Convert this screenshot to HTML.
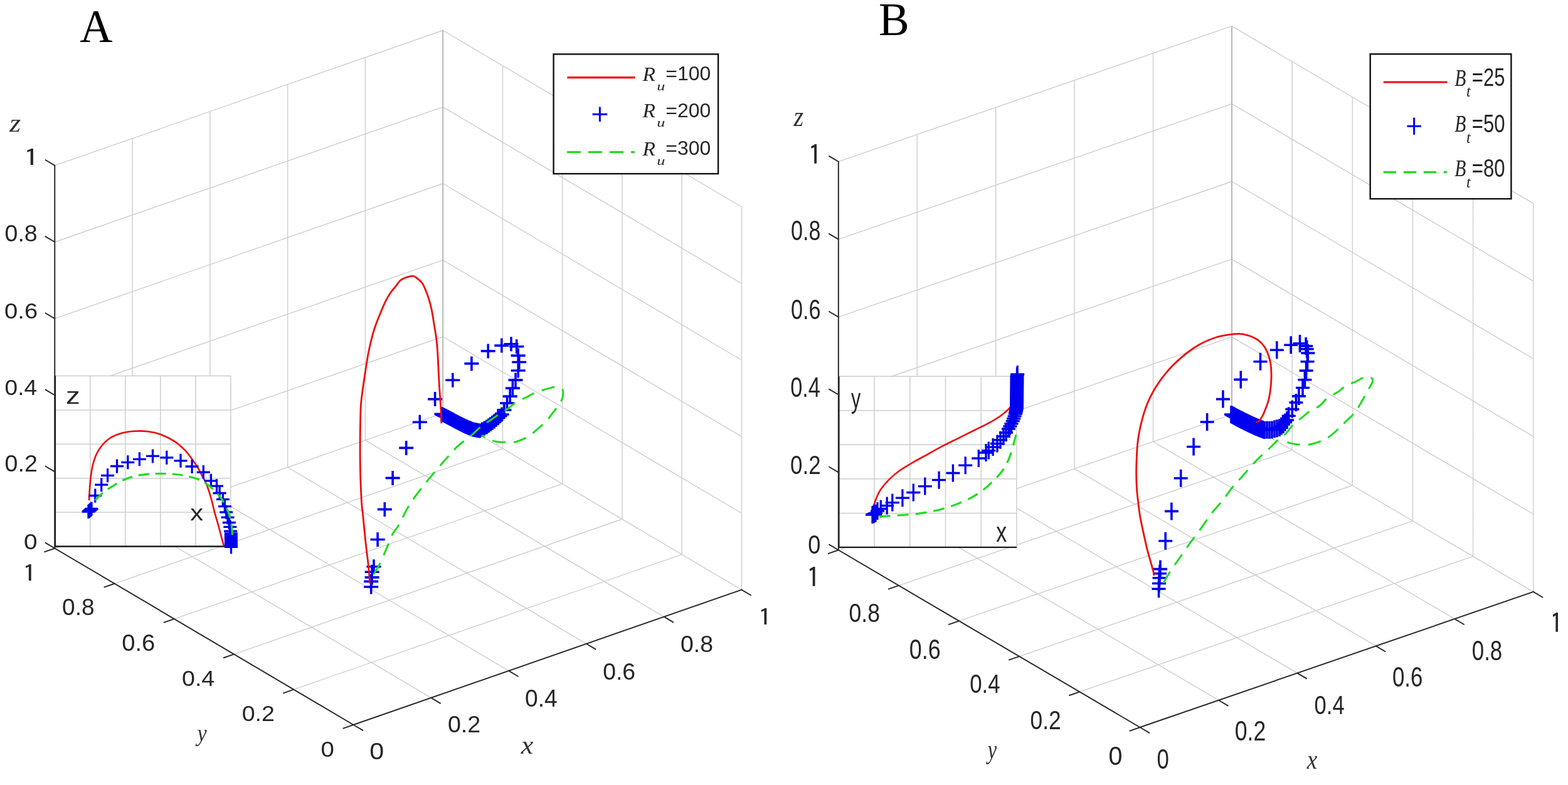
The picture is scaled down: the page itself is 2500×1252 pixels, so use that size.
<!DOCTYPE html>
<html><head><meta charset="utf-8"><title>Figure</title>
<style>html,body{margin:0;padding:0;background:#fff;}svg{display:block;}</style></head>
<body><svg width="2500" height="1252" viewBox="0 0 2500 1252">
<rect width="2500" height="1252" fill="#fff"/>
<path d="M87.3,874.5L87.3,263.9M87.3,874.5L706.2,659.1M1182.4,940.6L1182.4,330M1182.4,940.6L706.2,659.1M563.5,1156L87.3,874.5M563.5,1156L1182.4,940.6M211.08,831.42L211.08,220.82M87.3,752.38L706.2,536.98M1087.16,884.3L1087.16,273.7M1182.4,818.48L706.2,536.98M687.28,1112.92L211.08,831.42M468.26,1099.7L1087.16,884.3M334.86,788.34L334.86,177.74M87.3,630.26L706.2,414.86M991.92,828L991.92,217.4M1182.4,696.36L706.2,414.86M811.06,1069.84L334.86,788.34M373.02,1043.4L991.92,828M458.64,745.26L458.64,134.66M87.3,508.14L706.2,292.74M896.68,771.7L896.68,161.1M1182.4,574.24L706.2,292.74M934.84,1026.76L458.64,745.26M277.78,987.1L896.68,771.7M582.42,702.18L582.42,91.58M87.3,386.02L706.2,170.62M801.44,715.4L801.44,104.8M1182.4,452.12L706.2,170.62M1058.62,983.68L582.42,702.18M182.54,930.8L801.44,715.4M706.2,659.1L706.2,48.5M87.3,263.9L706.2,48.5M706.2,659.1L706.2,48.5M1182.4,330L706.2,48.5M1182.4,940.6L706.2,659.1M87.3,874.5L706.2,659.1" fill="none" stroke="#cecece" stroke-width="1.4"/>
<line x1="706.2" y1="659.1" x2="706.2" y2="48.5" stroke="#b4b4b4" stroke-width="1.8"/>
<path d="M1336.8,877.3L1336.8,257.8M1336.8,877.3L1964,661.2M2444.7,943.9L2444.7,324.4M2444.7,943.9L1964,661.2M1817.5,1160L1336.8,877.3M1817.5,1160L2444.7,943.9M1462.24,834.08L1462.24,214.58M1336.8,753.4L1964,537.3M2348.56,887.36L2348.56,267.86M2444.7,820L1964,537.3M1942.94,1116.78L1462.24,834.08M1721.36,1103.46L2348.56,887.36M1587.68,790.86L1587.68,171.36M1336.8,629.5L1964,413.4M2252.42,830.82L2252.42,211.32M2444.7,696.1L1964,413.4M2068.38,1073.56L1587.68,790.86M1625.22,1046.92L2252.42,830.82M1713.12,747.64L1713.12,128.14M1336.8,505.6L1964,289.5M2156.28,774.28L2156.28,154.78M2444.7,572.2L1964,289.5M2193.82,1030.34L1713.12,747.64M1529.08,990.38L2156.28,774.28M1838.56,704.42L1838.56,84.92M1336.8,381.7L1964,165.6M2060.14,717.74L2060.14,98.24M2444.7,448.3L1964,165.6M2319.26,987.12L1838.56,704.42M1432.94,933.84L2060.14,717.74M1964,661.2L1964,41.7M1336.8,257.8L1964,41.7M1964,661.2L1964,41.7M2444.7,324.4L1964,41.7M2444.7,943.9L1964,661.2M1336.8,877.3L1964,661.2" fill="none" stroke="#cecece" stroke-width="1.4"/>
<line x1="1964" y1="661.2" x2="1964" y2="41.7" stroke="#b4b4b4" stroke-width="1.8"/>
<rect x="87.9" y="599.5" width="279.9" height="272" fill="#fff"/>
<path d="M143.88,599.5V871.5M87.9,817.1H367.8M199.86,599.5V871.5M87.9,762.7H367.8M255.84,599.5V871.5M87.9,708.3H367.8M311.82,599.5V871.5M87.9,653.9H367.8M367.8,599.5V871.5M87.9,599.5H367.8" fill="none" stroke="#cdcdcd" stroke-width="1.5"/>
<path d="M87.9,599.5V871.5H367.8" fill="none" stroke="#1a1a1a" stroke-width="2.4"/>
<rect x="1337.4" y="600.3" width="283.5" height="272.6" fill="#fff"/>
<path d="M1394.1,600.3V872.9M1337.4,818.38H1620.9M1450.8,600.3V872.9M1337.4,763.86H1620.9M1507.5,600.3V872.9M1337.4,709.34H1620.9M1564.2,600.3V872.9M1337.4,654.82H1620.9M1620.9,600.3V872.9M1337.4,600.3H1620.9" fill="none" stroke="#cdcdcd" stroke-width="1.5"/>
<path d="M1337.4,600.3V872.9H1620.9" fill="none" stroke="#1a1a1a" stroke-width="2.4"/>
<path d="M580.2,936h23 M591.7,924.5v23 M580.2,927.4h23 M591.7,915.9v23 M581.6,920.9h23 M593.1,909.4v23 M581.6,912.3h23 M593.1,900.8v23 M584.5,903.7h23 M596,892.2v23 M590.6,860.5h23 M602.1,849v23 M601.8,812.4h23 M613.3,800.9v23 M614.6,762.4h23 M626.1,750.9v23 M636.2,714.4h23 M647.7,702.9v23 M657.8,673.3h23 M669.3,661.8v23 M682.1,636.6h23 M693.6,625.1v23 M710.3,606.2h23 M721.8,594.7v23 M740.4,579.9h23 M751.9,568.4v23 M766.7,559.9h23 M778.2,548.4v23 M788.3,551.1h23 M799.8,539.6v23 M803.5,548.7h23 M815,537.2v23 M812.2,552.7h23 M823.7,541.2v23 M814.6,567.1h23 M826.1,555.6v23 M816.2,577.5h23 M827.7,566v23 M814.7,591h23 M826.2,579.5v23 M810.5,606.1h23 M822,594.6v23 M805.9,619.1h23 M817.4,607.6v23 M801.7,632.1h23 M813.2,620.6v23 M797,643h23 M808.5,631.5v23 M792.4,653.9h23 M803.9,642.4v23 M788.5,661h23 M800,649.5v23 M785.5,663.75h23 M797,652.25v23 M782.5,666.5h23 M794,655v23 M779.5,669.25h23 M791,657.75v23 M776.5,672h23 M788,660.5v23 M773.5,674.25h23 M785,662.75v23 M770.5,676.5h23 M782,665v23 M767.5,678.75h23 M779,667.25v23 M764.5,681h23 M776,669.5v23 M760.83,683h23 M772.33,671.5v23 M757.17,685h23 M768.67,673.5v23 M753.5,687h23 M765,675.5v23 M753.5,687h23 M765,675.5v23 M751.93,686.71h23 M763.43,675.21v23 M750.36,686.43h23 M761.86,674.93v23 M748.79,686.14h23 M760.29,674.64v23 M747.21,685.86h23 M758.71,674.36v23 M745.64,685.57h23 M757.14,674.07v23 M744.07,685.29h23 M755.57,673.79v23 M742.5,685h23 M754,673.5v23 M741,684.38h23 M752.5,672.88v23 M739.5,683.75h23 M751,672.25v23 M738,683.12h23 M749.5,671.62v23 M736.5,682.5h23 M748,671v23 M735,681.88h23 M746.5,670.38v23 M733.5,681.25h23 M745,669.75v23 M732,680.62h23 M743.5,669.12v23 M730.5,680h23 M742,668.5v23 M729,679.25h23 M740.5,667.75v23 M727.5,678.5h23 M739,667v23 M726,677.75h23 M737.5,666.25v23 M724.5,677h23 M736,665.5v23 M723,676.25h23 M734.5,664.75v23 M721.5,675.5h23 M733,664v23 M720,674.75h23 M731.5,663.25v23 M718.5,674h23 M730,662.5v23 M717.06,673.22h23 M728.56,661.72v23 M715.61,672.44h23 M727.11,660.94v23 M714.17,671.67h23 M725.67,660.17v23 M712.72,670.89h23 M724.22,659.39v23 M711.28,670.11h23 M722.78,658.61v23 M709.83,669.33h23 M721.33,657.83v23 M708.39,668.56h23 M719.89,657.06v23 M706.94,667.78h23 M718.44,656.28v23 M705.5,667h23 M717,655.5v23 M704.06,666.27h23 M715.56,654.77v23 M702.61,665.53h23 M714.11,654.03v23 M701.17,664.8h23 M712.67,653.3v23 M699.72,664.07h23 M711.22,652.57v23 M698.28,663.33h23 M709.78,651.83v23 M696.83,662.6h23 M708.33,651.1v23 M695.39,661.87h23 M706.89,650.37v23 M693.94,661.13h23 M705.44,649.63v23 M692.5,660.4h23 M704,648.9v23" fill="none" stroke="#0000f0" stroke-width="3.6"/>
<path d="M590,930 C589.93,929.68 590.03,932.73 589.6,928.1 C589.17,923.47 588.48,912.5 587.4,902.2 C586.32,891.9 584.53,879.48 583.1,866.3 C581.67,853.12 579.92,834.23 578.8,823.1 C577.68,811.97 577.12,811.42 576.4,799.5 C575.68,787.58 574.88,765.97 574.5,751.6 C574.12,737.23 574.1,726.08 574.1,713.3 C574.1,700.52 574.28,686.08 574.5,674.9 C574.72,663.72 574.77,655.13 575.4,646.2 C576.03,637.27 577.02,630.88 578.3,621.3 C579.58,611.72 581.5,598.92 583.1,588.7 C584.7,578.48 585.97,569.48 587.9,560 C589.83,550.52 592.63,539.3 594.7,531.8 C596.77,524.3 598.25,520.58 600.3,515 C602.35,509.42 604.58,504.07 607,498.3 C609.42,492.53 612.2,485.62 614.8,480.4 C617.4,475.18 619.8,471.1 622.6,467 C625.4,462.9 628.7,459.3 631.6,455.8 C634.5,452.3 635.72,448.62 640,446 C644.28,443.38 653.12,440.43 657.3,440.1 C661.48,439.77 662.5,442.13 665.1,444 C667.7,445.87 670.67,448.22 672.9,451.3 C675.13,454.38 676.63,458.03 678.5,462.5 C680.37,466.97 682.42,472.52 684.1,478.1 C685.78,483.68 687.3,489.65 688.6,496 C689.9,502.35 690.78,509.3 691.9,516.2 C693.02,523.1 694.37,530.33 695.3,537.4 C696.23,544.47 696.68,546.2 697.5,558.6 C698.32,571 699.35,596.95 700.2,611.8 C701.05,626.65 702,637.12 702.6,647.7 C703.2,658.28 703.6,670.7 703.8,675.3" fill="none" stroke="#ee0a0a" stroke-width="2.8"/>
<path d="M596,916 C597.45,913.47 601.93,906.2 604.7,900.8 C607.47,895.4 610.33,888.75 612.6,883.6 C614.87,878.45 616.03,875.3 618.3,869.9 C620.57,864.5 623.43,856.35 626.2,851.2 C628.97,846.05 631.9,844.03 634.9,839 C637.9,833.97 641.57,826.03 644.2,821 C646.83,815.97 647.7,813.72 650.7,808.8 C653.7,803.88 656.83,798.78 662.2,791.5 C667.57,784.22 675.65,774 682.9,765.1 C690.15,756.2 700.02,744.7 705.7,738.1 C711.38,731.5 713.22,729.7 717,725.5 C720.78,721.3 724.4,716.75 728.4,712.9 C732.4,709.05 736.65,705.92 741,702.4 C745.35,698.88 750,695.65 754.5,691.8 C759,687.95 763.15,683.12 768,679.3 C772.85,675.48 778.23,672.53 783.6,668.9 C788.97,665.27 795.7,660.43 800.2,657.5 C804.7,654.57 806.62,654.07 810.6,651.3 C814.58,648.53 819,644.02 824.1,640.9 C829.2,637.78 836.18,635.12 841.2,632.6 C846.22,630.08 848.73,627.97 854.2,625.8 C859.67,623.63 868.45,621.07 874,619.6 C879.55,618.13 883.7,616.73 887.5,617 C891.3,617.27 895.17,618.6 896.8,621.2 C898.43,623.8 898.17,628.63 897.3,632.6 C896.43,636.57 894.8,639.98 891.6,645 C888.4,650.02 881.73,658.02 878.1,662.7 C874.47,667.38 873.78,669.12 869.8,673.1 C865.82,677.08 858.35,682.97 854.2,686.6 C850.05,690.23 849.92,691.97 844.9,694.9 C839.88,697.83 829.63,702.47 824.1,704.2 C818.57,705.93 817.23,705.3 811.7,705.3 C806.17,705.3 797.02,705.25 790.9,704.2 C784.78,703.15 778.82,700.7 775,699 C771.18,697.3 769.17,694.83 768,694" fill="none" stroke="#1edc1e" stroke-width="3" stroke-dasharray="21 13"/>
<path d="M1836.5,939.3h22 M1847.5,925.3v28 M1837,930.5h22 M1848,916.5v28 M1837.5,921.7h22 M1848.5,907.7v28 M1838,914.7h22 M1849,900.7v28 M1839,907.6h22 M1850,893.6v28 M1847.2,862.8h22 M1858.2,848.8v28 M1856.9,815.4h22 M1867.9,801.4v28 M1871.7,762.8h22 M1882.7,748.8v28 M1892.1,712.5h22 M1903.1,698.5v28 M1913.6,673h22 M1924.6,659v28 M1938.9,636.6h22 M1949.9,622.6v28 M1967.3,605.4h22 M1978.3,591.4v28 M1998.5,576.7h22 M2009.5,562.7v28 M2024.8,558.3h22 M2035.8,544.3v28 M2047.2,550.3h22 M2058.2,536.3v28 M2061.5,547.9h22 M2072.5,533.9v28 M2071.1,551.9h22 M2082.1,537.9v28 M2072.7,556.7h22 M2083.7,542.7v28 M2074.3,563.1h22 M2085.3,549.1v28 M2073.5,576.7h22 M2084.5,562.7v28 M2071.6,591.1h22 M2082.6,577.1v28 M2069.4,605.7h22 M2080.4,591.7v28 M2066,618.5h22 M2077,604.5v28 M2059.9,631.9h22 M2070.9,617.9v28 M2055.4,642h22 M2066.4,628v28 M2049.3,652.6h22 M2060.3,638.6v28 M2043.7,663.2h22 M2054.7,649.2v28 M2041,670h22 M2052,656v28 M2038,673.5h22 M2049,659.5v28 M2035,677h22 M2046,663v28 M2032,679.5h22 M2043,665.5v28 M2029,682h22 M2040,668v28 M2025,683.17h22 M2036,669.17v28 M2021,684.33h22 M2032,670.33v28 M2017,685.5h22 M2028,671.5v28 M2013,685.67h22 M2024,671.67v28 M2009,685.83h22 M2020,671.83v28 M2005,686h22 M2016,672v28 M2005,686h22 M2016,672v28 M2003.56,685.44h22 M2014.56,671.44v28 M2002.11,684.89h22 M2013.11,670.89v28 M2000.67,684.33h22 M2011.67,670.33v28 M1999.22,683.78h22 M2010.22,669.78v28 M1997.78,683.22h22 M2008.78,669.22v28 M1996.33,682.67h22 M2007.33,668.67v28 M1994.89,682.11h22 M2005.89,668.11v28 M1993.44,681.56h22 M2004.44,667.56v28 M1992,681h22 M2003,667v28 M1990.56,680.33h22 M2001.56,666.33v28 M1989.11,679.67h22 M2000.11,665.67v28 M1987.67,679h22 M1998.67,665v28 M1986.22,678.33h22 M1997.22,664.33v28 M1984.78,677.67h22 M1995.78,663.67v28 M1983.33,677h22 M1994.33,663v28 M1981.89,676.33h22 M1992.89,662.33v28 M1980.44,675.67h22 M1991.44,661.67v28 M1979,675h22 M1990,661v28 M1977.6,674.3h22 M1988.6,660.3v28 M1976.2,673.6h22 M1987.2,659.6v28 M1974.8,672.9h22 M1985.8,658.9v28 M1973.4,672.2h22 M1984.4,658.2v28 M1972,671.5h22 M1983,657.5v28 M1970.6,670.8h22 M1981.6,656.8v28 M1969.2,670.1h22 M1980.2,656.1v28 M1967.8,669.4h22 M1978.8,655.4v28 M1966.4,668.7h22 M1977.4,654.7v28 M1965,668h22 M1976,654v28 M1963.56,667.22h22 M1974.56,653.22v28 M1962.11,666.44h22 M1973.11,652.44v28 M1960.67,665.67h22 M1971.67,651.67v28 M1959.22,664.89h22 M1970.22,650.89v28 M1957.78,664.11h22 M1968.78,650.11v28 M1956.33,663.33h22 M1967.33,649.33v28 M1954.89,662.56h22 M1965.89,648.56v28 M1953.44,661.78h22 M1964.44,647.78v28 M1952,661h22 M1963,647v28" fill="none" stroke="#0000f0" stroke-width="3.6"/>
<path d="M1840,918 C1839.77,916.72 1839.47,913.82 1838.6,910.3 C1837.73,906.78 1836.37,902.5 1834.8,896.9 C1833.23,891.3 1831.07,884.17 1829.2,876.7 C1827.33,869.23 1825.47,860.67 1823.6,852.1 C1821.73,843.53 1819.48,833.87 1818,825.3 C1816.52,816.73 1815.63,808.53 1814.7,800.7 C1813.77,792.87 1812.88,787.63 1812.4,778.3 C1811.92,768.97 1811.45,757.58 1811.8,744.7 C1812.15,731.82 1812.47,715.35 1814.5,701 C1816.53,686.65 1820.03,671.27 1824,658.6 C1827.97,645.93 1832.32,635.78 1838.3,625 C1844.28,614.22 1852.3,603.08 1859.9,593.9 C1867.5,584.72 1875.52,577.1 1883.9,569.9 C1892.28,562.7 1901.02,556.02 1910.2,550.7 C1919.38,545.38 1929.7,540.95 1939,538 C1948.3,535.05 1958.92,533.87 1966,533 C1973.08,532.13 1975.72,531.77 1981.5,532.8 C1987.28,533.83 1995.63,536.68 2000.7,539.2 C2005.77,541.72 2008.72,544.45 2011.9,547.9 C2015.08,551.35 2017.55,554.97 2019.8,559.9 C2022.05,564.83 2024.2,571.38 2025.4,577.5 C2026.6,583.62 2026.87,590.22 2027,596.6 C2027.13,602.98 2026.87,609.13 2026.2,615.8 C2025.53,622.47 2024.33,630.75 2023,636.6 C2021.67,642.45 2019.92,646.38 2018.2,650.9 C2016.48,655.42 2014.55,660.23 2012.7,663.7 C2010.85,667.17 2008.83,670.1 2007.1,671.7 C2005.37,673.3 2003.1,673.03 2002.3,673.3" fill="none" stroke="#ee0a0a" stroke-width="2.8"/>
<path d="M1855,930 C1856.83,926.83 1861.83,917.5 1866,911 C1870.17,904.5 1875,898.17 1880,891 C1885,883.83 1890.47,875.67 1896,868 C1901.53,860.33 1907.45,852.92 1913.2,845 C1918.95,837.08 1924.42,828.4 1930.5,820.5 C1936.58,812.6 1943.78,805.02 1949.7,797.6 C1955.62,790.18 1960.3,782.88 1966,776 C1971.7,769.12 1977.73,763.22 1983.9,756.3 C1990.07,749.38 1996.42,741.28 2003,734.5 C2009.58,727.72 2017.27,721.43 2023.4,715.6 C2029.53,709.77 2035.47,703.38 2039.8,699.5 C2044.13,695.62 2045.8,695.9 2049.4,692.3 C2053,688.7 2057,682.3 2061.4,677.9 C2065.8,673.5 2071.4,669.5 2075.8,665.9 C2080.2,662.3 2083,659.5 2087.8,656.3 C2092.6,653.1 2099.82,650.3 2104.6,646.7 C2109.38,643.1 2111.72,638.3 2116.5,634.7 C2121.28,631.1 2128.5,628.3 2133.3,625.1 C2138.1,621.9 2140.5,618.3 2145.3,615.5 C2150.1,612.7 2156.9,610.7 2162.1,608.3 C2167.3,605.9 2172.52,602.07 2176.5,601.1 C2180.48,600.13 2184,601.3 2186,602.5 C2188,603.7 2189.33,604.95 2188.5,608.3 C2187.67,611.65 2184.25,616.65 2181,622.6 C2177.75,628.55 2172.58,638 2169,644 C2165.42,650 2163.5,653.77 2159.5,658.6 C2155.5,663.43 2149,669 2145,673 C2141,677 2139.88,678.6 2135.5,682.6 C2131.12,686.6 2123.88,693.4 2118.7,697 C2113.52,700.6 2109.58,702.2 2104.4,704.2 C2099.22,706.2 2093.2,708.2 2087.6,709 C2082,709.8 2076,709.4 2070.8,709 C2065.6,708.6 2061.2,707.93 2056.4,706.6 C2051.6,705.27 2044.4,701.93 2042,701" fill="none" stroke="#1edc1e" stroke-width="3" stroke-dasharray="21 13"/>
<path d="M141.9,798 C142.23,793.03 142.87,777.7 143.9,768.2 C144.93,758.7 145.95,749.25 148.1,741 C150.25,732.75 152.88,725.3 156.8,718.7 C160.72,712.1 165.82,705.93 171.6,701.4 C177.38,696.87 184.48,693.78 191.5,691.5 C198.52,689.22 206.28,688.25 213.7,687.7 C221.12,687.15 228.97,687.37 236,688.2 C243.03,689.03 248.88,690.1 255.9,692.7 C262.92,695.3 271.5,699.47 278.1,703.8 C284.7,708.13 290.38,713.33 295.5,718.7 C300.62,724.07 305.52,731.53 308.8,736 C312.08,740.47 313,741.78 315.2,745.5 C317.4,749.22 319.73,754 322,758.3 C324.27,762.6 326.4,765.33 328.8,771.3 C331.2,777.27 334.12,786.25 336.4,794.1 C338.68,801.95 340.47,810.82 342.5,818.4 C344.53,825.98 346.45,831.77 348.6,839.6 C350.75,847.43 354,860.17 355.4,865.4 C356.8,870.63 356.73,870.07 357,871" fill="none" stroke="#ee0a0a" stroke-width="2.6"/>
<path d="M130.5,816h21 M141,805v22 M131.5,815.1h21 M142,804.1v22 M132.5,814.2h21 M143,803.2v22 M133.5,813.3h21 M144,802.3v22 M134.5,812.4h21 M145,801.4v22 M135.5,811.5h21 M146,800.5v22 M141.3,790.5h21 M151.8,779.5v22 M151.2,773.2h21 M161.7,762.2v22 M161.1,758.3h21 M171.6,747.3v22 M176,743.5h21 M186.5,732.5v22 M193.3,737.3h21 M203.8,726.3v22 M211.9,732.3h21 M222.4,721.3v22 M233,727.4h21 M243.5,716.4v22 M255.3,729.8h21 M265.8,718.8v22 M277.5,734.8h21 M288,723.8v22 M295.6,744h21 M306.1,733v22 M313.8,753.1h21 M324.3,742.1v22 M325.9,766.8h21 M336.4,755.8v22 M335,775.1h21 M345.5,764.1v22 M339.6,786.5h21 M350.1,775.5v22 M344.9,796.4h21 M355.4,785.4v22 M347.9,807.7h21 M358.4,796.7v22 M350.2,816.8h21 M360.7,805.8v22 M352.5,825.2h21 M363,814.2v22 M354.8,833.5h21 M365.3,822.5v22 M356.3,840.4h21 M366.8,829.4v22 M357,847.2h21 M367.5,836.2v22 M357.8,851h21 M368.3,840v22 M357.81,852.52h21 M368.31,841.52v22 M357.83,854.04h21 M368.33,843.04v22 M357.84,855.56h21 M368.34,844.56v22 M357.86,857.09h21 M368.36,846.09v22 M357.87,858.61h21 M368.37,847.61v22 M357.89,860.13h21 M368.39,849.13v22 M357.9,861.65h21 M368.4,850.65v22 M357.91,863.17h21 M368.41,852.17v22 M357.93,864.69h21 M368.43,853.69v22 M357.94,866.21h21 M368.44,855.21v22 M357.96,867.74h21 M368.46,856.74v22 M357.97,869.26h21 M368.47,858.26v22 M357.99,870.78h21 M368.49,859.78v22 M358,872.3h21 M368.5,861.3v22" fill="none" stroke="#0000f0" stroke-width="3.3"/>
<path d="M151.8,798 C153.87,795.93 159.65,789.32 164.2,785.6 C168.75,781.88 173.73,779 179.1,775.7 C184.47,772.4 190.63,768.48 196.4,765.8 C202.17,763.12 207.5,761.18 213.7,759.6 C219.9,758.02 226.98,757 233.6,756.3 C240.22,755.6 246.8,755.47 253.4,755.4 C260,755.33 266.6,755.42 273.2,755.9 C279.8,756.38 286.4,757.07 293,758.3 C299.6,759.53 307.02,761.23 312.8,763.3 C318.58,765.37 322.75,767.4 327.7,770.7 C332.65,774 337.97,778.55 342.5,783.1 C347.03,787.65 351.58,793.05 354.9,798 C358.22,802.95 360.33,807.85 362.4,812.8 C364.47,817.75 366.07,822.75 367.3,827.7 C368.53,832.65 369.27,837.45 369.8,842.5 C370.33,847.55 370.38,855.42 370.5,858" fill="none" stroke="#1edc1e" stroke-width="3.2" stroke-dasharray="17 10"/>
<path d="M1391.9,810.3 C1392.72,807.82 1394.73,800.37 1396.8,795.4 C1398.87,790.43 1400.98,785.45 1404.3,780.5 C1407.62,775.55 1411.75,770.65 1416.7,765.7 C1421.65,760.75 1427.82,755.33 1434,750.8 C1440.18,746.27 1446.38,742.83 1453.8,738.5 C1461.22,734.17 1470.25,729.35 1478.5,724.8 C1486.75,720.25 1495.03,715.53 1503.3,711.2 C1511.57,706.87 1519.85,702.92 1528.1,698.8 C1536.35,694.68 1544.55,690.62 1552.8,686.5 C1561.05,682.38 1570.17,678.23 1577.6,674.1 C1585.03,669.97 1592.03,665.62 1597.4,661.7 C1602.77,657.78 1606.5,654.32 1609.8,650.6 C1613.1,646.88 1615.13,643.33 1617.2,639.4 C1619.27,635.47 1620.97,631.57 1622.2,627 C1623.43,622.43 1624.2,614.5 1624.6,612" fill="none" stroke="#ee0a0a" stroke-width="2.6"/>
<path d="M1380,821h22 M1391,807v28 M1381.25,820.38h22 M1392.25,806.38v28 M1382.5,819.75h22 M1393.5,805.75v28 M1383.75,819.12h22 M1394.75,805.12v28 M1385,818.5h22 M1396,804.5v28 M1388,815h22 M1399,801v28 M1393.3,811.5h22 M1404.3,797.5v28 M1403.2,806.5h22 M1414.2,792.5v28 M1411.8,801.6h22 M1422.8,787.6v28 M1427.9,794.2h22 M1438.9,780.2v28 M1445.3,785.5h22 M1456.3,771.5v28 M1463.8,775.6h22 M1474.8,761.6v28 M1486.1,765.7h22 M1497.1,751.7v28 M1508.4,754.5h22 M1519.4,740.5v28 M1528.2,742.2h22 M1539.2,728.2v28 M1549.3,731h22 M1560.3,717v28 M1561,722h22 M1572,708v28 M1565.3,718.6h22 M1576.3,704.6v28 M1572.15,713.05h22 M1583.15,699.05v28 M1579,707.5h22 M1590,693.5v28 M1584,701.75h22 M1595,687.75v28 M1589,696h22 M1600,682v28 M1593,690h22 M1604,676v28 M1597,684h22 M1608,670v28 M1597,684h22 M1608,670v28 M1599.23,679.87h22 M1610.23,665.87v28 M1601.47,675.73h22 M1612.47,661.73v28 M1603.7,671.6h22 M1614.7,657.6v28 M1605.13,667.73h22 M1616.13,653.73v28 M1606.57,663.87h22 M1617.57,649.87v28 M1608,660h22 M1619,646v28 M1608,660h22 M1619,646v28 M1608.33,658.33h22 M1619.33,644.33v28 M1608.67,656.67h22 M1619.67,642.67v28 M1609,655h22 M1620,641v28 M1609.33,653.33h22 M1620.33,639.33v28 M1609.67,651.67h22 M1620.67,637.67v28 M1610,650h22 M1621,636v28 M1610.02,648.48h22 M1621.02,634.48v28 M1610.03,646.97h22 M1621.03,632.97v28 M1610.05,645.45h22 M1621.05,631.45v28 M1610.06,643.94h22 M1621.06,629.94v28 M1610.08,642.42h22 M1621.08,628.42v28 M1610.09,640.91h22 M1621.09,626.91v28 M1610.11,639.39h22 M1621.11,625.39v28 M1610.12,637.88h22 M1621.12,623.88v28 M1610.14,636.36h22 M1621.14,622.36v28 M1610.15,634.85h22 M1621.15,620.85v28 M1610.17,633.33h22 M1621.17,619.33v28 M1610.18,631.82h22 M1621.18,617.82v28 M1610.2,630.3h22 M1621.2,616.3v28 M1610.21,628.79h22 M1621.21,614.79v28 M1610.23,627.27h22 M1621.23,613.27v28 M1610.24,625.76h22 M1621.24,611.76v28 M1610.26,624.24h22 M1621.26,610.24v28 M1610.27,622.73h22 M1621.27,608.73v28 M1610.29,621.21h22 M1621.29,607.21v28 M1610.3,619.7h22 M1621.3,605.7v28 M1610.32,618.18h22 M1621.32,604.18v28 M1610.33,616.67h22 M1621.33,602.67v28 M1610.35,615.15h22 M1621.35,601.15v28 M1610.36,613.64h22 M1621.36,599.64v28 M1610.38,612.12h22 M1621.38,598.12v28 M1610.39,610.61h22 M1621.39,596.61v28 M1610.41,609.09h22 M1621.41,595.09v28 M1610.42,607.58h22 M1621.42,593.58v28 M1610.44,606.06h22 M1621.44,592.06v28 M1610.45,604.55h22 M1621.45,590.55v28 M1610.47,603.03h22 M1621.47,589.03v28 M1610.48,601.52h22 M1621.48,587.52v28 M1610.5,600h22 M1621.5,586v28 M1611.2,597h22 M1622.2,583v28" fill="none" stroke="#0000f0" stroke-width="3.3"/>
<path d="M1401.8,823.9 C1406.33,823.6 1418.27,822.93 1429,822.1 C1439.73,821.27 1453.82,820.67 1466.2,818.9 C1478.58,817.13 1490.93,815 1503.3,811.5 C1515.67,808 1530.08,802.65 1540.4,797.9 C1550.72,793.15 1557.77,788.37 1565.2,783 C1572.63,777.63 1579.22,771.47 1585,765.7 C1590.78,759.93 1595.77,754.58 1599.9,748.4 C1604.03,742.22 1606.92,736.03 1609.8,728.6 C1612.68,721.17 1615.13,711.23 1617.2,703.8 C1619.27,696.37 1621.37,687.3 1622.2,684" fill="none" stroke="#1edc1e" stroke-width="3.2" stroke-dasharray="18 11"/>
<path d="M87.3,874.5L87.3,263.9M563.5,1156L87.3,874.5M563.5,1156L1182.4,940.6M87.3,874.5l-14.63,-8.65M563.5,1156l-16.06,5.59M563.5,1156l14.63,8.65M87.3,752.38l-14.63,-8.65M468.26,1099.7l-16.06,5.59M687.28,1112.92l14.63,8.65M87.3,630.26l-14.63,-8.65M373.02,1043.4l-16.06,5.59M811.06,1069.84l14.63,8.65M87.3,508.14l-14.63,-8.65M277.78,987.1l-16.06,5.59M934.84,1026.76l14.63,8.65M87.3,386.02l-14.63,-8.65M182.54,930.8l-16.06,5.59M1058.62,983.68l14.63,8.65M87.3,263.9l-14.63,-8.65M87.3,874.5l-16.06,5.59M1182.4,940.6l14.63,8.65" fill="none" stroke="#262626" stroke-width="1.9" stroke-linecap="square"/>
<path d="M1336.8,877.3L1336.8,257.8M1817.5,1160L1336.8,877.3M1817.5,1160L2444.7,943.9M1336.8,877.3l-14.65,-8.62M1817.5,1160l-16.07,5.54M1817.5,1160l14.65,8.62M1336.8,753.4l-14.65,-8.62M1721.36,1103.46l-16.07,5.54M1942.94,1116.78l14.65,8.62M1336.8,629.5l-14.65,-8.62M1625.22,1046.92l-16.07,5.54M2068.38,1073.56l14.65,8.62M1336.8,505.6l-14.65,-8.62M1529.08,990.38l-16.07,5.54M2193.82,1030.34l14.65,8.62M1336.8,381.7l-14.65,-8.62M1432.94,933.84l-16.07,5.54M2319.26,987.12l14.65,8.62M1336.8,257.8l-14.65,-8.62M1336.8,877.3l-16.07,5.54M2444.7,943.9l14.65,8.62" fill="none" stroke="#262626" stroke-width="1.9" stroke-linecap="square"/>
<text transform="translate(127.28,66.5) scale(0.965,1)" font-family="'Liberation Serif', 'Times New Roman', serif" font-size="75" fill="#000" style="">A</text>
<text transform="translate(1401.09,55.83)" font-family="'Liberation Serif', 'Times New Roman', serif" font-size="73.03" fill="#000" style="">B</text>
<text transform="translate(15.36,209.8) scale(1.175,1)" font-family="'Liberation Serif', 'Times New Roman', serif" font-size="39.13" fill="#333" style="font-style:italic;">z</text>
<text transform="translate(314.62,1182.31) scale(0.923,1)" font-family="'Liberation Serif', 'Times New Roman', serif" font-size="37.19" fill="#333" style="font-style:italic;">y</text>
<text transform="translate(830.64,1201.6) scale(1.113,1)" font-family="'Liberation Serif', 'Times New Roman', serif" font-size="39.57" fill="#333" style="font-style:italic;">x</text>
<text transform="translate(1265.6,200.7) scale(0.861,1)" font-family="'Liberation Serif', 'Times New Roman', serif" font-size="46.74" fill="#333" style="font-style:italic;">z</text>
<text transform="translate(1574.77,1209.78) scale(0.730,1)" font-family="'Liberation Serif', 'Times New Roman', serif" font-size="44.74" fill="#333" style="font-style:italic;">y</text>
<text transform="translate(2083.67,1226.4) scale(0.824,1)" font-family="'Liberation Serif', 'Times New Roman', serif" font-size="45" fill="#333" style="font-style:italic;">x</text>
<text transform="translate(37.34,265.13) scale(1.404,1)" font-family="IPAGothic, 'Liberation Sans', sans-serif" font-size="36.57" fill="#262626" style="">1</text>
<text transform="translate(7.6,385.33) scale(1.012,1)" font-family="'Liberation Sans', Arial, sans-serif" font-size="37.04" fill="#262626" style="">0.8</text>
<text transform="translate(7.07,508.15) scale(1.093,1)" font-family="'Liberation Sans', Arial, sans-serif" font-size="34.93" fill="#262626" style="">0.6</text>
<text transform="translate(7.62,630.35) scale(1.046,1)" font-family="'Liberation Sans', Arial, sans-serif" font-size="35.35" fill="#262626" style="">0.4</text>
<text transform="translate(7.6,752.44) scale(1.029,1)" font-family="'Liberation Sans', Arial, sans-serif" font-size="36.48" fill="#262626" style="">0.2</text>
<text transform="translate(37.95,875.65) scale(1.096,1)" font-family="'Liberation Sans', Arial, sans-serif" font-size="35.35" fill="#262626" style="">0</text>
<text transform="translate(35.62,928.23) scale(1.271,1)" font-family="IPAGothic, 'Liberation Sans', sans-serif" font-size="36.57" fill="#262626" style="">1</text>
<text transform="translate(99.1,980.83)" font-family="'Liberation Sans', Arial, sans-serif" font-size="37.04" fill="#262626" style="">0.8</text>
<text transform="translate(194.17,1037.63) scale(1.019,1)" font-family="'Liberation Sans', Arial, sans-serif" font-size="37.46" fill="#262626" style="">0.6</text>
<text transform="translate(290.1,1093.55) scale(1.057,1)" font-family="'Liberation Sans', Arial, sans-serif" font-size="35.49" fill="#262626" style="">0.4</text>
<text transform="translate(385.7,1150.25) scale(1.064,1)" font-family="'Liberation Sans', Arial, sans-serif" font-size="35.35" fill="#262626" style="">0.2</text>
<text transform="translate(511.47,1206.65) scale(1.088,1)" font-family="'Liberation Sans', Arial, sans-serif" font-size="35.21" fill="#262626" style="">0</text>
<text transform="translate(589.15,1211.03) scale(1.101,1)" font-family="'Liberation Sans', Arial, sans-serif" font-size="37.46" fill="#262626" style="">0</text>
<text transform="translate(713.89,1167.64) scale(1.041,1)" font-family="'Liberation Sans', Arial, sans-serif" font-size="36.2" fill="#262626" style="">0.2</text>
<text transform="translate(837.12,1127.02) scale(0.973,1)" font-family="'Liberation Sans', Arial, sans-serif" font-size="38.17" fill="#262626" style="">0.4</text>
<text transform="translate(961.21,1083.63) scale(1.019,1)" font-family="'Liberation Sans', Arial, sans-serif" font-size="36.62" fill="#262626" style="">0.6</text>
<text transform="translate(1085,1039.63) scale(1.021,1)" font-family="'Liberation Sans', Arial, sans-serif" font-size="36.62" fill="#262626" style="">0.8</text>
<text transform="translate(1208.29,997.85) scale(1.242,1)" font-family="IPAGothic, 'Liberation Sans', sans-serif" font-size="37" fill="#262626" style="">1</text>
<text transform="translate(1287.99,262.93) scale(1.031,1)" font-family="IPAGothic, 'Liberation Sans', sans-serif" font-size="44.57" fill="#262626" style="">1</text>
<text transform="translate(1261.04,383.06) scale(0.775,1)" font-family="'Liberation Sans', Arial, sans-serif" font-size="43.94" fill="#262626" style="">0.8</text>
<text transform="translate(1261.03,509.16) scale(0.780,1)" font-family="'Liberation Sans', Arial, sans-serif" font-size="43.8" fill="#262626" style="">0.6</text>
<text transform="translate(1260.13,633.25) scale(0.761,1)" font-family="'Liberation Sans', Arial, sans-serif" font-size="45.07" fill="#262626" style="">0.4</text>
<text transform="translate(1260.11,755.97) scale(0.806,1)" font-family="'Liberation Sans', Arial, sans-serif" font-size="43.24" fill="#262626" style="">0.2</text>
<text transform="translate(1288.15,882.57) scale(0.837,1)" font-family="'Liberation Sans', Arial, sans-serif" font-size="43.24" fill="#262626" style="">0</text>
<text transform="translate(1285.59,936.71) scale(1.041,1)" font-family="IPAGothic, 'Liberation Sans', sans-serif" font-size="44.14" fill="#262626" style="">1</text>
<text transform="translate(1353.48,992.27) scale(0.823,1)" font-family="'Liberation Sans', Arial, sans-serif" font-size="43.24" fill="#262626" style="">0.8</text>
<text transform="translate(1449.87,1050.65) scale(0.806,1)" font-family="'Liberation Sans', Arial, sans-serif" font-size="44.51" fill="#262626" style="">0.6</text>
<text transform="translate(1546.21,1105.37) scale(0.803,1)" font-family="'Liberation Sans', Arial, sans-serif" font-size="43.38" fill="#262626" style="">0.4</text>
<text transform="translate(1642.58,1162.87) scale(0.816,1)" font-family="'Liberation Sans', Arial, sans-serif" font-size="43.38" fill="#262626" style="">0.2</text>
<text transform="translate(1767.42,1220.37) scale(0.930,1)" font-family="'Liberation Sans', Arial, sans-serif" font-size="42.54" fill="#262626" style="">0</text>
<text transform="translate(1844.51,1225.95) scale(0.776,1)" font-family="'Liberation Sans', Arial, sans-serif" font-size="44.79" fill="#262626" style="">0</text>
<text transform="translate(1968.67,1181.26) scale(0.812,1)" font-family="'Liberation Sans', Arial, sans-serif" font-size="43.94" fill="#262626" style="">0.2</text>
<text transform="translate(2095.62,1138.97) scale(0.807,1)" font-family="'Liberation Sans', Arial, sans-serif" font-size="42.82" fill="#262626" style="">0.4</text>
<text transform="translate(2219.91,1094.85) scale(0.778,1)" font-family="'Liberation Sans', Arial, sans-serif" font-size="44.79" fill="#262626" style="">0.6</text>
<text transform="translate(2346.81,1053.45) scale(0.777,1)" font-family="'Liberation Sans', Arial, sans-serif" font-size="44.79" fill="#262626" style="">0.8</text>
<text transform="translate(2470.81,1010.31) scale(0.980,1)" font-family="IPAGothic, 'Liberation Sans', sans-serif" font-size="44.14" fill="#262626" style="">1</text>
<text transform="translate(104.89,643.9) scale(1.246,1)" font-family="'Liberation Sans', Arial, sans-serif" font-size="36.42" fill="#262626" style="">z</text>
<text transform="translate(303.37,830) scale(1.188,1)" font-family="'Liberation Sans', Arial, sans-serif" font-size="35.09" fill="#262626" style="">x</text>
<text transform="translate(1357.05,650.99) scale(0.672,1)" font-family="'Liberation Sans', Arial, sans-serif" font-size="45.27" fill="#262626" style="">y</text>
<text transform="translate(1588.19,863.5) scale(0.764,1)" font-family="'Liberation Sans', Arial, sans-serif" font-size="44.34" fill="#262626" style="">x</text>
<rect x="882.6" y="86.4" width="262.5" height="190.7" fill="#fff" stroke="#111" stroke-width="2.4"/>
<line x1="904.4" y1="123.6" x2="1012.6" y2="123.6" stroke="#ee0a0a" stroke-width="3.2"/>
<path d="M944.65,182.3h23.5 M956.4,170.55v23.5" fill="none" stroke="#0000f0" stroke-width="3"/>
<line x1="904" y1="242.7" x2="1012" y2="242.7" stroke="#1edc1e" stroke-width="3.2" stroke-dasharray="22 12"/>
<text transform="translate(1024.47,128.7) scale(1.045,1)" font-family="'Liberation Serif', 'Times New Roman', serif" font-size="32.06" fill="#262626" style="font-style:italic;">R</text>
<text transform="translate(1047.29,143.6) scale(1.327,1)" font-family="'Liberation Serif', 'Times New Roman', serif" font-size="19.79" fill="#262626" style="font-style:italic;">u</text>
<text transform="translate(1061.29,128.38)" font-family="'Liberation Sans', Arial, sans-serif" font-size="31.97" fill="#262626" style="">=100</text>
<text transform="translate(1024.47,187.4) scale(1.045,1)" font-family="'Liberation Serif', 'Times New Roman', serif" font-size="32.06" fill="#262626" style="font-style:italic;">R</text>
<text transform="translate(1047.29,202.3) scale(1.327,1)" font-family="'Liberation Serif', 'Times New Roman', serif" font-size="19.79" fill="#262626" style="font-style:italic;">u</text>
<text transform="translate(1061.29,187.08)" font-family="'Liberation Sans', Arial, sans-serif" font-size="31.97" fill="#262626" style="">=200</text>
<text transform="translate(1024.47,247.8) scale(1.045,1)" font-family="'Liberation Serif', 'Times New Roman', serif" font-size="32.06" fill="#262626" style="font-style:italic;">R</text>
<text transform="translate(1047.29,262.7) scale(1.327,1)" font-family="'Liberation Serif', 'Times New Roman', serif" font-size="19.79" fill="#262626" style="font-style:italic;">u</text>
<text transform="translate(1061.29,247.48)" font-family="'Liberation Sans', Arial, sans-serif" font-size="31.97" fill="#262626" style="">=300</text>
<rect x="2184.7" y="86.2" width="224.7" height="230.9" fill="#fff" stroke="#111" stroke-width="2.4"/>
<line x1="2205.7" y1="131" x2="2307.5" y2="131" stroke="#ee0a0a" stroke-width="3.2"/>
<path d="M2243.4,201.3h22.4 M2254.6,187.8v27" fill="none" stroke="#0000f0" stroke-width="3"/>
<line x1="2205.7" y1="274.7" x2="2307" y2="274.7" stroke="#1edc1e" stroke-width="3.2" stroke-dasharray="20.5 11.5"/>
<text transform="translate(2319.3,136.51) scale(0.774,1)" font-family="'Liberation Serif', 'Times New Roman', serif" font-size="38.33" fill="#262626" style="font-style:italic;">B</text>
<text transform="translate(2337.92,154.44) scale(0.939,1)" font-family="'Liberation Serif', 'Times New Roman', serif" font-size="25.57" fill="#262626" style="font-style:italic;">t</text>
<text transform="translate(2346.75,137.2) scale(0.769,1)" font-family="'Liberation Sans', Arial, sans-serif" font-size="40.42" fill="#262626" style="">=25</text>
<text transform="translate(2319.3,210.21) scale(0.774,1)" font-family="'Liberation Serif', 'Times New Roman', serif" font-size="38.33" fill="#262626" style="font-style:italic;">B</text>
<text transform="translate(2337.92,228.14) scale(0.939,1)" font-family="'Liberation Serif', 'Times New Roman', serif" font-size="25.57" fill="#262626" style="font-style:italic;">t</text>
<text transform="translate(2346.75,210.9) scale(0.769,1)" font-family="'Liberation Sans', Arial, sans-serif" font-size="40.42" fill="#262626" style="">=50</text>
<text transform="translate(2319.3,281.41) scale(0.774,1)" font-family="'Liberation Serif', 'Times New Roman', serif" font-size="38.33" fill="#262626" style="font-style:italic;">B</text>
<text transform="translate(2337.92,299.34) scale(0.939,1)" font-family="'Liberation Serif', 'Times New Roman', serif" font-size="25.57" fill="#262626" style="font-style:italic;">t</text>
<text transform="translate(2346.75,282.1) scale(0.769,1)" font-family="'Liberation Sans', Arial, sans-serif" font-size="40.42" fill="#262626" style="">=80</text>
</svg></body></html>
